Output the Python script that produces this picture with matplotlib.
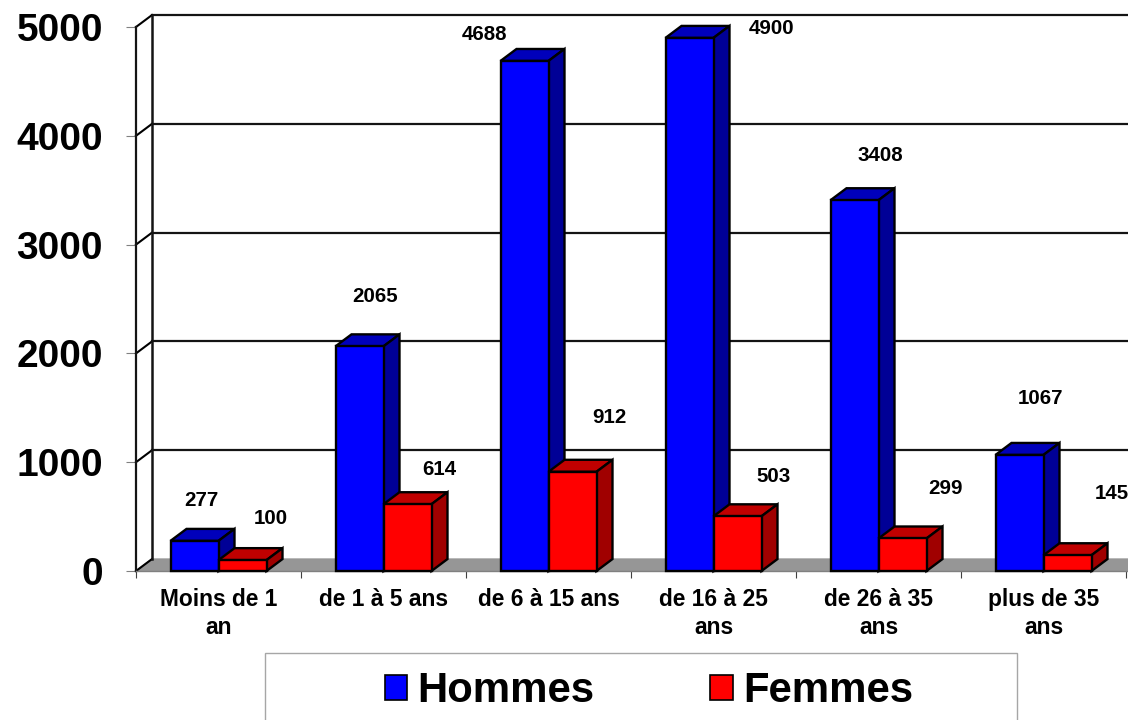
import matplotlib
matplotlib.use("Agg")
import matplotlib.pyplot as plt
from matplotlib.patches import Patch, Rectangle

plt.rcParams['font.family'] = ['Liberation Sans', 'DejaVu Sans']
plt.rcParams['font.weight'] = 'bold'

# Data
categories = ['Moins de 1\nan', 'de 1 à 5 ans', 'de 6 à 15 ans',
              'de 16 à 25\nans', 'de 26 à 35\nans', 'plus de 35\nans']
hommes = [277, 2065, 4688, 4900, 3408, 1067]
femmes = [100, 614, 912, 503, 299, 145]
y_ticks = [0, 1000, 2000, 3000, 4000, 5000]

# label offsets from the bar top, in pixels
hommes_offsets = [(7, 40), (16, 50), (-40, 26), (82, 9), (26, 45), (21, 56)]
femmes_offsets = [(28, 42), (32, 35), (37, 54), (36, 40), (43, 50), (44, 62)]

# Fake 3D depth, in data units
depth_x = 16 / 165
depth_y = 110
bar_w = 48 / 165
x_max = 992 / 165

fig = plt.figure(figsize=(11.28, 7.2), dpi=100)
ax = fig.add_axes([136 / 1128, 1 - 571 / 720, 992 / 1128, 544 / 720])
ax.set_xlim(0, x_max)
ax.set_ylim(0, 5000)
for s in ax.spines.values():
    s.set_visible(False)

# Floor
ax.fill([0, depth_x, x_max + depth_x, x_max], [0, depth_y, depth_y, 0],
        color='#969696', zorder=1, clip_on=False)

# Walls and gridlines
for t in y_ticks:
    if t > 0:
        ax.plot([depth_x, x_max + depth_x], [t + depth_y, t + depth_y],
                color='#141414', lw=1.6, zorder=1, clip_on=False)
    ax.plot([0, depth_x], [t, t + depth_y], color='black', lw=1.5, zorder=2, clip_on=False)
ax.plot([0, 0], [0, 5000], color='#141414', lw=1.6, zorder=2, clip_on=False)
ax.plot([depth_x, depth_x], [depth_y, 5000 + depth_y], color='#141414', lw=1.8, zorder=2, clip_on=False)
ax.plot([0, x_max], [0, 0], color='#808080', lw=1, zorder=2, clip_on=False)


def draw_bar(left, value, front, top, side, z):
    right = left + bar_w
    ax.bar(left, value, bar_w, align='edge', color=front, edgecolor='black',
           linewidth=1.7, zorder=z + 1, clip_on=False)
    ax.fill([left, left + depth_x, right + depth_x, right],
            [value, value + depth_y, value + depth_y, value],
            facecolor=top, edgecolor='black', linewidth=1.7, zorder=z, clip_on=False)
    ax.fill([right, right + depth_x, right + depth_x, right],
            [0, depth_y, value + depth_y, value],
            facecolor=side, edgecolor='black', linewidth=1.7, zorder=z, clip_on=False)


for i in range(len(categories)):
    center = i + 0.5
    draw_bar(center - bar_w, hommes[i], '#0000ff', '#0000bb', '#000096', 3 + i * 4)
    draw_bar(center, femmes[i], '#ff0000', '#c00000', '#a00000', 5 + i * 4)
    ax.annotate(str(hommes[i]), (center - bar_w / 2, hommes[i]), xytext=hommes_offsets[i],
                textcoords='offset pixels', ha='center', va='center', fontsize=14.8,
                annotation_clip=False, zorder=50)
    ax.annotate(str(femmes[i]), (center + bar_w / 2, femmes[i]), xytext=femmes_offsets[i],
                textcoords='offset pixels', ha='center', va='center', fontsize=14.8,
                annotation_clip=False, zorder=50)

# Axes labels
ax.set_yticks(y_ticks)
ax.set_yticklabels([str(t) for t in y_ticks], fontsize=28, fontweight='bold')
ax.tick_params(axis='y', length=7.2, width=0.8, color='#808080', pad=16.5)

ax.set_xticks(range(0, 7))
ax.set_xticklabels([])
ax.tick_params(axis='x', which='major', length=5, width=0.8, color='#404040')
ax.set_xticks([i + 0.5 for i in range(6)], minor=True)
ax.set_xticklabels(categories, minor=True, fontsize=16.4, fontweight='bold', linespacing=1.27)
ax.tick_params(axis='x', which='minor', length=0, pad=12)

# Legend
fig.add_artist(Rectangle((265 / 1128, -0.01), 752 / 1128, 67 / 720 + 0.01, transform=fig.transFigure,
                         facecolor='white', edgecolor='#a6a6a6', linewidth=1))
handles = [Patch(facecolor='#0000ff', edgecolor='black', linewidth=1.2),
           Patch(facecolor='#ff0000', edgecolor='black', linewidth=1.2)]
fig.legend(handles, ['Hommes', 'Femmes'], ncol=2, loc='center',
           bbox_to_anchor=(649 / 1128, 1 - 691 / 720), frameon=False,
           prop={'size': 30.2, 'weight': 'bold'}, handlelength=0.53, handleheight=0.53,
           handletextpad=0.25, columnspacing=2.76)

fig.savefig('out.png', dpi=100)
